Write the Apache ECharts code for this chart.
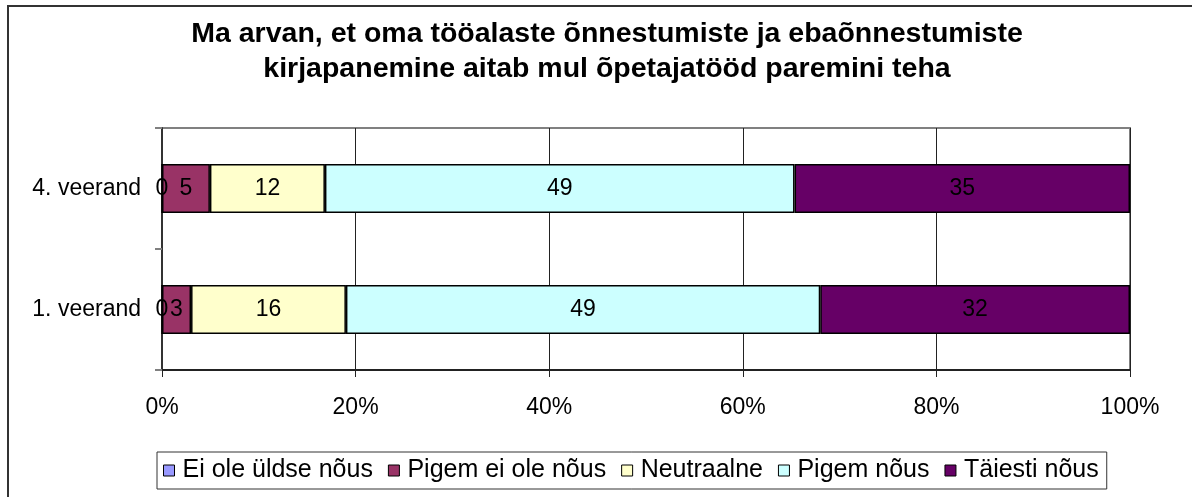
<!DOCTYPE html>
<html>
<head>
<meta charset="utf-8">
<script src="https://cdn.jsdelivr.net/npm/echarts@6/dist/echarts.min.js"></script>
<style>
  html, body { margin: 0; padding: 0; background: #fff; }
  #chart { width: 1192px; height: 497px; }
</style>
</head>
<body>
<div id="chart"></div>
<script>
const categories = ["1. veerand", "4. veerand"];
const seriesNames = ["Ei ole üldse nõus", "Pigem ei ole nõus", "Neutraalne", "Pigem nõus", "Täiesti nõus"];
const eiOle = [0, 0];
const pigemEi = [3, 5];
const neutraalne = [16, 12];
const pigemNous = [49, 49];
const taiesti = [32, 35];
const xTicks = [0, 20, 40, 60, 80, 100];

const colors = ["#9999FF", "#993366", "#FFFFCC", "#CCFFFF", "#660066"];
const font = "Liberation Sans, Arial, sans-serif";

const allValues = [eiOle, pigemEi, neutraalne, pigemNous, taiesti];
const totals = categories.map((c, i) => allValues.reduce((s, arr) => s + arr[i], 0));

const chart = echarts.init(document.getElementById("chart"));

const series = allValues.map((arr, k) => ({
    name: seriesNames[k],
    type: "bar",
    stack: "total",
    barWidth: 49,
    itemStyle: {color: colors[k], borderColor: "#000", borderWidth: 1.5},
    label: {
        show: true,
        position: "inside",
        color: "#000",
        fontFamily: font,
        fontSize: 23,
        formatter: p => p.data.raw
    },
    emphasis: {disabled: true},
    data: arr.map((v, i) => ({value: v / totals[i] * 100, raw: v}))
}));

chart.setOption({
    animation: false,
    backgroundColor: "#fff",
    title: {
        text: "Ma arvan, et oma tööalaste õnnestumiste ja ebaõnnestumiste\nkirjapanemine aitab mul õpetajatööd paremini teha",
        left: 602,
        textAlign: "center",
        top: 12,
        textStyle: {fontFamily: font, fontWeight: "bold", fontSize: 28.5, lineHeight: 35, color: "#000"}
    },
    grid: {
        left: 162, right: 62, top: 128, bottom: 127,
        show: true, borderColor: "#808080", borderWidth: 2, backgroundColor: "#fff"
    },
    legend: {
        data: seriesNames,
        left: 157, top: 452,
        padding: [6, 8, 6, 6],
        borderColor: "#333", borderWidth: 1,
        itemWidth: 11, itemHeight: 11, itemGap: 15,
        icon: "rect",
        itemStyle: {borderColor: "#000", borderWidth: 1},
        textStyle: {fontFamily: font, fontSize: 25, color: "#000", padding: [0, 0, 0, 3]}
    },
    xAxis: {
        type: "value",
        min: xTicks[0], max: xTicks[xTicks.length - 1], interval: 20,
        axisLine: {show: true, lineStyle: {color: "#222", width: 2}},
        axisTick: {show: true, length: 7, inside: false, lineStyle: {color: "#222"}},
        splitLine: {show: true, lineStyle: {color: "#222", width: 1}},
        axisLabel: {formatter: "{value}%", fontFamily: font, fontSize: 23, color: "#000", margin: 26}
    },
    yAxis: {
        type: "category",
        data: categories,
        axisLine: {show: true, lineStyle: {color: "#333", width: 2}},
        axisTick: {show: true, length: 7, lineStyle: {color: "#808080", width: 2}},
        axisLabel: {fontFamily: font, fontSize: 23, color: "#000", margin: 21}
    },
    graphic: [{
        type: "rect",
        shape: {x: 8, y: 6, width: 1400, height: 700},
        style: {fill: null, stroke: "#333", lineWidth: 2},
        z: 100
    }],
    series: series
});
</script>
</body>
</html>
